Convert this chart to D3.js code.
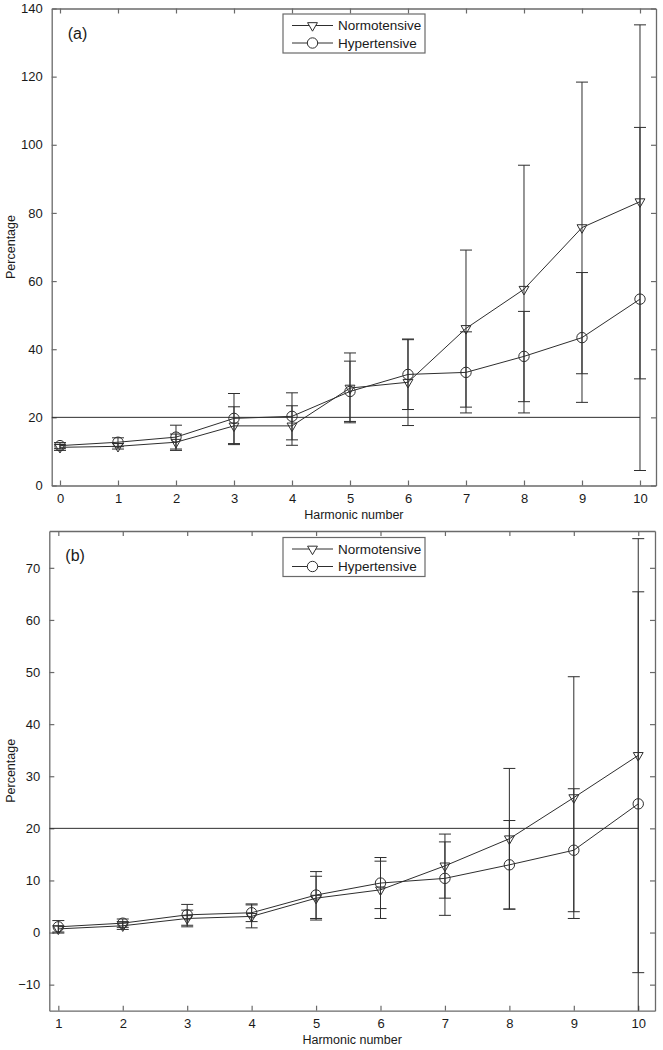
<!DOCTYPE html>
<html>
<head>
<meta charset="utf-8">
<script src="https://cdn.jsdelivr.net/npm/d3@7"></script>
<style>
  html, body { margin: 0; padding: 0; background: #fff; }
  svg { display: block; font-family: "Liberation Sans", Arial, Helvetica, sans-serif; }
</style>
</head>
<body>
<svg id="chart" width="663" height="1050"></svg>
<script>
// ---------- Data ----------
const seriesNames = ["Normotensive", "Hypertensive"];
const threshold = 20;

// Panel (a)
const harmonicsA = [0, 1, 2, 3, 4, 5, 6, 7, 8, 9, 10];
const normoA   = [11.2, 11.5, 12.7, 17.5, 17.5, 28.6, 30.3, 46.1, 57.6, 75.7, 83.3];
const normoLoA = [10.3, 10.7, 10.3, 12.0, 11.8, 18.4, 17.6, 23.0, 21.3, 32.8, 31.3];
const normoHiA = [12.1, 12.3, 15.1, 23.1, 23.4, 38.9, 42.8, 69.1, 94.0, 118.4, 135.2];
const hyperA   = [11.7, 12.7, 14.2, 19.7, 20.3, 27.6, 32.6, 33.2, 37.9, 43.4, 54.7];
const hyperLoA = [10.8, 11.4, 10.7, 12.3, 13.4, 18.8, 22.3, 21.3, 24.6, 24.4, 4.4];
const hyperHiA = [12.6, 14.0, 17.7, 27.0, 27.2, 36.5, 43.0, 45.1, 51.1, 62.5, 105.1];
const yTicksA = [0, 20, 40, 60, 80, 100, 120, 140];

// Panel (b)
const harmonicsB = [1, 2, 3, 4, 5, 6, 7, 8, 9, 10];
const normoB   = [0.7, 1.3, 2.7, 3.1, 6.6, 8.2, 12.8, 18.0, 25.9, 34.0];
const normoLoB = [0.1, 0.6, 1.1, 0.9, 2.4, 2.7, 6.6, 4.5, 2.7, -7.7];
const normoHiB = [1.3, 2.1, 4.3, 5.3, 10.8, 13.7, 18.9, 31.5, 49.1, 75.6];
const hyperB   = [1.1, 1.8, 3.4, 3.8, 7.2, 9.5, 10.4, 13.0, 15.8, 24.7];
const hyperLoB = [-0.1, 1.0, 1.4, 2.1, 2.7, 4.6, 3.3, 4.5, 4.0, -16.0];
const hyperHiB = [2.3, 2.6, 5.4, 5.5, 11.7, 14.4, 17.4, 21.5, 27.6, 65.4];
const yTicksB = [-10, 0, 10, 20, 30, 40, 50, 60, 70];

const xLabel = "Harmonic number";
const yLabel = "Percentage";

// ---------- Drawing ----------
const svg = d3.select("#chart");
const axisColor = "#6a6a6a";
const lineColor = "#2e2e2e";
const textColor = "#1a1a1a";

function drawPanel(cfg) {
  const { id, box, xDomain, yDomain, xs, yTicks, series, tag, legendTop } = cfg;
  const x = d3.scaleLinear().domain(xDomain).range([box.left, box.right]);
  const y = d3.scaleLinear().domain(yDomain).range([box.bottom, box.top]);
  const g = svg.append("g");

  // clip
  const clipId = "clip-" + id;
  svg.append("clipPath").attr("id", clipId).append("rect")
    .attr("x", box.left).attr("y", box.top)
    .attr("width", box.right - box.left).attr("height", box.bottom - box.top);

  // axes (box with inward ticks on all sides)
  const tickLen = 5;
  const bottomAxis = d3.axisBottom(x).tickValues(xs).tickSizeInner(-tickLen).tickSizeOuter(0).tickPadding(8).tickFormat(d3.format("d"));
  const topAxis = d3.axisTop(x).tickValues(xs).tickSizeInner(-tickLen).tickSizeOuter(0).tickFormat("");
  const leftAxis = d3.axisLeft(y).tickValues(yTicks).tickSizeInner(-tickLen).tickSizeOuter(0).tickPadding(9)
    .tickFormat(d => d < 0 ? "\u2212" + Math.abs(d) : String(d));
  const rightAxis = d3.axisRight(y).tickValues(yTicks).tickSizeInner(-tickLen).tickSizeOuter(0).tickFormat("");

  const styleAxis = sel => {
    sel.selectAll(".domain").attr("stroke", axisColor).attr("stroke-width", 1.3);
    sel.selectAll(".tick line").attr("stroke", axisColor).attr("stroke-width", 1.2);
    sel.selectAll(".tick text").attr("fill", textColor).style("font-size", "13px")
      .style("font-family", "'Liberation Sans', Arial, sans-serif");
  };
  g.append("g").attr("transform", `translate(0,${box.bottom})`).call(bottomAxis).call(styleAxis);
  g.append("g").attr("transform", `translate(0,${box.top})`).call(topAxis).call(styleAxis);
  g.append("g").attr("transform", `translate(${box.left},0)`).call(leftAxis).call(styleAxis);
  g.append("g").attr("transform", `translate(${box.right},0)`).call(rightAxis).call(styleAxis);

  const plot = g.append("g").attr("clip-path", `url(#${clipId})`);

  // threshold line from left axis to last harmonic
  plot.append("line")
    .attr("x1", box.left).attr("x2", x(xs[xs.length - 1]))
    .attr("y1", y(threshold)).attr("y2", y(threshold))
    .attr("stroke", lineColor).attr("stroke-width", 1);

  const capHalf = 6;
  series.forEach(s => {
    const pts = xs.map((h, i) => ({ h, v: s.values[i], lo: s.lo[i], hi: s.hi[i] }));
    // error bars
    const eb = plot.append("g").attr("stroke", lineColor).attr("stroke-width", 1).attr("fill", "none");
    pts.forEach(p => {
      eb.append("line").attr("x1", x(p.h)).attr("x2", x(p.h)).attr("y1", y(p.lo)).attr("y2", y(p.hi));
      eb.append("line").attr("x1", x(p.h) - capHalf).attr("x2", x(p.h) + capHalf).attr("y1", y(p.lo)).attr("y2", y(p.lo));
      eb.append("line").attr("x1", x(p.h) - capHalf).attr("x2", x(p.h) + capHalf).attr("y1", y(p.hi)).attr("y2", y(p.hi));
    });
    // line
    plot.append("path").datum(pts)
      .attr("d", d3.line().x(p => x(p.h)).y(p => y(p.v)))
      .attr("fill", "none").attr("stroke", lineColor).attr("stroke-width", 1);
    // markers
    const mk = plot.append("g").attr("fill", "none").attr("stroke", lineColor).attr("stroke-width", 1);
    pts.forEach(p => drawMarker(mk, s.marker, x(p.h), y(p.v)));
  });

  // panel tag
  g.append("text").attr("x", box.left + 16).attr("y", box.top + 30)
    .attr("fill", textColor).style("font-size", "16px").text(tag);

  // axis labels
  g.append("text").attr("x", (box.left + box.right) / 2).attr("y", box.bottom + 33)
    .attr("text-anchor", "middle").attr("fill", textColor).style("font-size", "12.5px").text(xLabel);
  g.append("text")
    .attr("transform", `translate(15,${(box.top + box.bottom) / 2}) rotate(-90)`)
    .attr("text-anchor", "middle").attr("fill", textColor).style("font-size", "12.5px").text(yLabel);

  // legend
  const lg = g.append("g");
  lg.append("rect").attr("x", 283).attr("y", legendTop).attr("width", 142).attr("height", 39)
    .attr("fill", "#fff").attr("stroke", axisColor).attr("stroke-width", 1.2);
  series.forEach((s, i) => {
    const cy = legendTop + 11.5 + i * 17.5;
    lg.append("line").attr("x1", 292).attr("x2", 333).attr("y1", cy).attr("y2", cy)
      .attr("stroke", lineColor).attr("stroke-width", 1);
    const mg = lg.append("g").attr("fill", "#fff").attr("stroke", lineColor).attr("stroke-width", 1);
    drawMarker(mg, s.marker, 312.5, cy);
    lg.append("text").attr("x", 338).attr("y", cy).attr("dy", "0.36em")
      .attr("fill", textColor).style("font-size", "13.5px").text(s.name);
  });
}

function drawMarker(sel, type, cx, cy) {
  if (type === "triangle") {
    const s = d3.symbol().type(d3.symbolTriangle).size(42);
    sel.append("path").attr("d", s()).attr("transform", `translate(${cx},${cy}) rotate(180)`);
  } else {
    sel.append("circle").attr("cx", cx).attr("cy", cy).attr("r", 5.2);
  }
}

drawPanel({
  id: "a",
  box: { left: 51.7, right: 656, top: 8.5, bottom: 485.5 },
  xDomain: [-0.143, 10.276],
  yDomain: [0, 140],
  xs: harmonicsA,
  yTicks: yTicksA,
  tag: "(a)",
  legendTop: 14,
  series: [
    { name: seriesNames[0], marker: "triangle", values: normoA, lo: normoLoA, hi: normoHiA },
    { name: seriesNames[1], marker: "circle", values: hyperA, lo: hyperLoA, hi: hyperHiA }
  ]
});

drawPanel({
  id: "b",
  box: { left: 49.3, right: 655, top: 531, bottom: 1010.7 },
  xDomain: [0.86, 10.26],
  yDomain: [-15, 77.07],
  xs: harmonicsB,
  yTicks: yTicksB,
  tag: "(b)",
  legendTop: 537.5,
  series: [
    { name: seriesNames[0], marker: "triangle", values: normoB, lo: normoLoB, hi: normoHiB },
    { name: seriesNames[1], marker: "circle", values: hyperB, lo: hyperLoB, hi: hyperHiB }
  ]
});
</script>
</body>
</html>
